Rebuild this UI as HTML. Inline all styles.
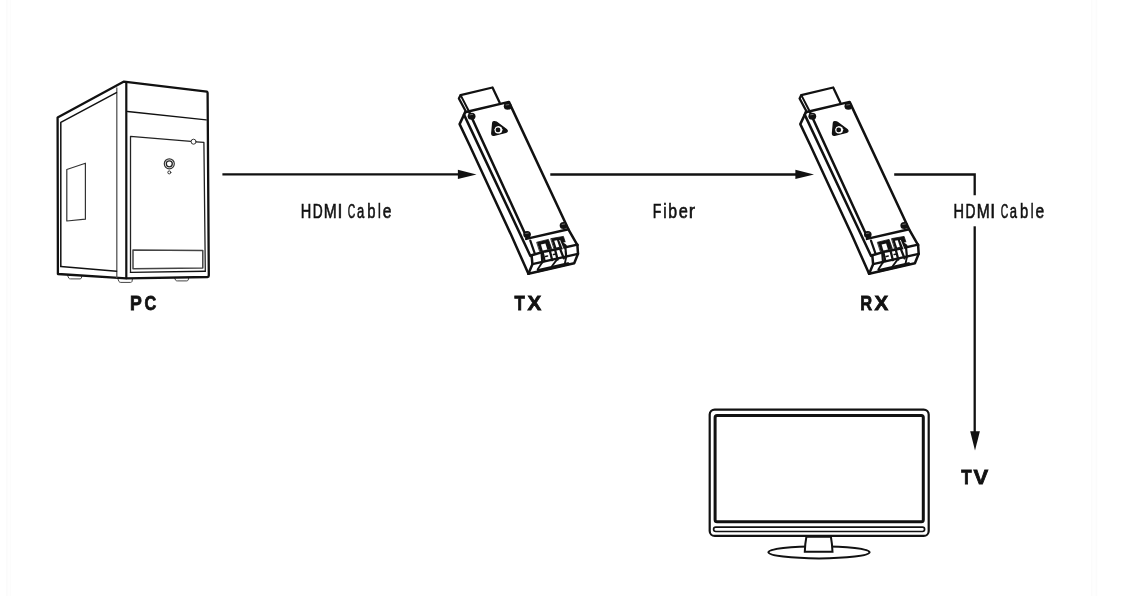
<!DOCTYPE html>
<html><head><meta charset="utf-8"><title>HDMI Fiber Extender</title>
<style>
html,body{margin:0;padding:0;background:#fff;}
body{width:1125px;height:596px;overflow:hidden;position:relative;}
svg{position:absolute;left:0;top:0;display:block;will-change:transform;}
text{font-family:"Liberation Sans",sans-serif;fill:#111;}
</style></head>
<body>
<svg width="1125" height="596" viewBox="0 0 1125 596">
<rect x="0" y="0" width="1125" height="596" fill="#fff"/>
<rect x="6" y="0" width="5" height="596" fill="#fefefe"/><rect x="6" y="0" width="1.6" height="596" fill="#fbfbfb"/><rect x="9.8" y="0" width="1" height="596" fill="#fcfcfc"/>
<rect x="1091" y="0" width="6.5" height="596" fill="#fefefe"/><rect x="1091" y="0" width="1.2" height="596" fill="#fbfbfb"/><rect x="1095.5" y="0" width="1.6" height="596" fill="#fbfbfb"/>

<!-- ================= PC ================= -->
<g id="pc" fill="none" stroke="#111" stroke-linejoin="round" stroke-linecap="round">
  <!-- feet -->
  <path d="M67.6,275.6 L68.8,278.2 Q69.4,278.9 70.5,278.9 L80,278.9 Q81,278.9 81.4,278 L81.8,276.2" stroke="#444" stroke-width="1" fill="#fff"/>
  <path d="M117.8,278.6 L119,281.6 Q119.6,282.4 120.8,282.4 L130.6,282.4 Q131.6,282.4 132,281.5 L132.4,279" stroke="#444" stroke-width="1" fill="#fff"/>
  <path d="M174.6,278 L175.6,280.2 Q176.2,280.9 177.3,280.9 L186.8,280.9 Q187.8,280.9 188.2,280 L188.8,277.6" stroke="#444" stroke-width="1" fill="#fff"/>
  <!-- outer silhouette -->
  <path d="M57.9,274 L57.6,117.6 L124,81.6 L126,81.8 L206.9,91.6 Q207.6,92.2 207.6,93 L208.8,275.4 Q208.8,276.8 207.4,277 L126.2,278.3 L57.9,274 Z" stroke-width="2.3"/>
  <!-- front/side corner -->
  <line x1="126.3" y1="82" x2="126.3" y2="278.2" stroke-width="2.2"/>
  <!-- side panel inner -->
  <path d="M116.8,88 L116.8,277.5" stroke="#555" stroke-width="1.3"/>
  <path d="M60.8,266.5 L60.8,122.4 L116.4,92.6" stroke-width="1.5"/>
  <path d="M60.8,266.5 L116.6,271.2" stroke-width="1.4"/>
  <!-- side vent -->
  <path d="M66.8,169.5 L85.4,163.2 L85.4,219.2 L66.8,221 Z" stroke="#333" stroke-width="1.2"/>
  <!-- front divider -->
  <path d="M127.6,111.5 L206.2,119.9" stroke-width="1.3"/>
  <!-- door -->
  <path d="M130.5,272.4 L130.5,136.4 L191,141.3 M196.1,141.8 L203.9,142.4 L205.3,271.2" stroke="#222" stroke-width="1.3"/>
  <path d="M130.5,272.4 L205.3,271.2" stroke-width="1.4"/>
  <circle cx="193.6" cy="141.7" r="2.5" fill="#fff" stroke="#333" stroke-width="1"/>
  <!-- power button -->
  <circle cx="169.3" cy="163.8" r="5" stroke="#333" stroke-width="1.2"/>
  <circle cx="169.3" cy="163.8" r="3" stroke="#222" stroke-width="1.3"/>
  <circle cx="169.3" cy="172.4" r="1.5" stroke="#333" stroke-width="1"/>
  <!-- bottom bay -->
  <path d="M133,249.9 L202.8,250.5 L202.8,268 L133,268.8 Z" stroke="#444" stroke-width="1.5"/>
</g>

<!-- ================= DEVICE (TX) ================= -->
<g id="dev" fill="none" stroke="#111" stroke-width="2.5" stroke-linejoin="round" stroke-linecap="round">
  <!-- plug -->
  <path d="M465.6,111 L458.9,98.5 L460.6,95.1 L492.5,87.5 L499.6,102.4" stroke-width="2.3"/>
  <path d="M460.6,95.1 L468.4,110.2" stroke-width="2"/>
  <!-- top face outline -->
  <path d="M465,112.3 L508.9,101.9 L568.4,229.3 L577.4,245.2"/>
  <!-- side face -->
  <path d="M465,112.6 L459.6,124.1 L469.5,145 L492.6,195 L511.2,235 L528.4,273.8"/>
  <path d="M464,114.6 L530.4,256"/>
  <path d="M469.4,112.6 L527,237.9"/>
  <!-- top face bottom edge -->
  <path d="M526.2,238.9 L568.4,229.3"/>
  <!-- connector housing -->
  <path d="M530.3,240.6 L534.9,253.8" stroke-width="2.2"/>
  <path d="M531.6,255.3 L545,251.4 L560,248.4 L577.3,244.6"/>
  <path d="M577.4,245.2 L578,253.8 L574.2,263.3 L528.4,273.8"/>
  <path d="M531.6,255.3 L532.4,264.2 L528.4,273.8"/>
  <path d="M532.4,264.2 L578,253.8" stroke-width="2.3"/>
  <path d="M565.2,246.2 L566.2,256.4" stroke-width="2.2"/>
  <path d="M541.6,253.6 L542.3,262.4" stroke-width="2.2"/>
  <path d="M541.8,263 L537.6,269.6 M556.3,260.4 L551.9,266.3 M566.2,257.2 L564.5,265" stroke-width="1.8"/>
  <!-- LC ports -->
  <path d="M537,242.2 L548.4,239.4 L551.6,248.6 L540,251.4 Z" fill="#111" stroke="#111" stroke-width="0.8"/>
  <path d="M540.9,244.6 L545.4,243.5 L547.3,249.4 L542.7,250.5 Z" fill="#fff" stroke="none"/>
  <path d="M551.1,238.6 L563.4,236.4 L566.4,245.8 L554.2,248.4 Z" fill="#111" stroke="#111" stroke-width="0.8"/>
  <path d="M554.2,240.8 L557,240.2 L559.2,246.8 L556.4,247.5 Z" fill="#fff" stroke="none"/>
  <path d="M559.8,240.4 L563.8,250.4" stroke="#fff" stroke-width="0.9"/>
  <path d="M563.2,242.6 L566.6,241.9 L567.3,245.2" fill="#fff" stroke="none"/>
  <path d="M542.6,252 L544.6,261 M549.8,250.6 L552.2,260.2 M555.2,250.2 L557.6,259.6 M560.4,249.6 L563.8,258.4" stroke-width="2.3"/>
  <path d="M545.5,256.5 L547.5,256 M553.5,254.5 L556,254" stroke-width="1.6"/>
  <path d="M538.6,270.6 L568,263.8" stroke-width="3.2"/>
  <!-- screws -->
  <g fill="#111" stroke="none">
    <ellipse cx="471.6" cy="116.3" rx="3.9" ry="3.5"/>
    <ellipse cx="507.7" cy="106.2" rx="3.9" ry="3.6"/>
    <ellipse cx="527.1" cy="234.6" rx="3.8" ry="3.5"/>
    <ellipse cx="563.5" cy="225.5" rx="3.8" ry="3.5"/>
  </g>
  <g stroke="#777" stroke-width="0.9">
    <path d="M470,114.8 L472.6,114.4 M506,105 L508.8,104.6 M525.7,233.5 L528.3,233.1 M562.1,224.4 L564.7,224"/>
  </g>
  <!-- logo -->
  <path d="M494.8,121.8 Q492.9,121.3 492.7,123.3 L491.8,133.4 Q491.7,135.6 493.9,135.2 L505.8,132.4 Q508.4,131.4 506.4,129.6 L497,122.6 Q496,121.9 494.8,121.8 Z" fill="#111" stroke="#111" stroke-width="1.4"/>
  <path d="M498.2,126 L500.2,126.4 L501.2,127.2 L502.6,129.6 L501.6,132.4 L499.6,133.6 L497,133.6 L495,132.2 L494.4,129.6 L495.6,127 Z" fill="#fff" stroke="none"/>
  <circle cx="498" cy="129.9" r="2.4" fill="#111" stroke="none"/>
</g>
<use href="#dev" transform="translate(340.7,0)"/>

<!-- ================= ARROWS ================= -->
<g stroke="#111" stroke-width="2.3" fill="none">
  <line x1="222.4" y1="174.4" x2="459" y2="174.4"/>
  <line x1="550.3" y1="174.5" x2="797" y2="174.5"/>
  <path d="M894.2,174.5 L974.7,174.5 L974.7,195.3" stroke-linejoin="miter"/>
  <line x1="974.7" y1="226.3" x2="974.7" y2="433"/>
</g>
<g fill="#111">
  <path d="M457.9,169.8 L476.5,174.4 L457.9,178.9 Z"/>
  <path d="M795.4,169.8 L814,174.4 L795.4,179 Z"/>
  <path d="M970.2,431.2 L979.9,431.2 L975,450.6 Z"/>
</g>

<!-- ================= TV ================= -->
<g fill="none" stroke="#111">
  <ellipse cx="819" cy="552.3" rx="50.6" ry="6.1" stroke-width="2"/>
  <path d="M806.4,536.7 Q805,544 804.8,551.7 L832.5,551.7 Q832.2,544 830.9,536.7 Z" fill="#fff" stroke-width="2"/>
  <rect x="709.7" y="409.6" width="219" height="126.3" rx="5" stroke-width="2.2"/>
  <rect x="715.1" y="415.4" width="208.2" height="106.4" rx="2" stroke-width="3"/>
  <rect x="713.6" y="527.2" width="211" height="4.3" rx="2.15" stroke-width="1.7"/>
</g>

<!-- ================= TEXT ================= -->
<g font-size="19.5" stroke="#111" stroke-width="0.6">
  <text transform="translate(300.63,217.80) scale(0.748,1)">H</text>
  <text transform="translate(312.68,217.80) scale(0.708,1)">D</text>
  <text transform="translate(323.86,217.80) scale(0.799,1)">M</text>
  <text transform="translate(337.54,217.80) scale(0.910,1)">I</text>
  <text transform="translate(347.83,217.80) scale(0.533,1)">C</text>
  <text transform="translate(356.95,217.80) scale(0.669,1)">a</text>
  <text transform="translate(367.27,217.80) scale(0.758,1)">b</text>
  <text transform="translate(378.04,217.80) scale(0.648,1)">l</text>
  <text transform="translate(382.68,217.80) scale(0.800,1)">e</text>
  <text transform="translate(652.66,217.80) scale(0.721,1)">F</text>
  <text transform="translate(663.22,217.80) scale(0.778,1)">i</text>
  <text transform="translate(668.32,217.80) scale(0.811,1)">b</text>
  <text transform="translate(678.66,217.80) scale(0.841,1)">e</text>
  <text transform="translate(688.64,217.80) scale(0.968,1)">r</text>
  <text transform="translate(953.43,218.00) scale(0.748,1)">H</text>
  <text transform="translate(965.48,218.00) scale(0.708,1)">D</text>
  <text transform="translate(976.66,218.00) scale(0.799,1)">M</text>
  <text transform="translate(990.34,218.00) scale(0.910,1)">I</text>
  <text transform="translate(1000.63,218.00) scale(0.533,1)">C</text>
  <text transform="translate(1009.75,218.00) scale(0.669,1)">a</text>
  <text transform="translate(1020.07,218.00) scale(0.758,1)">b</text>
  <text transform="translate(1030.84,218.00) scale(0.648,1)">l</text>
  <text transform="translate(1035.48,218.00) scale(0.800,1)">e</text>
</g>
<g font-size="20.4" font-weight="bold" stroke="#111" stroke-width="0.8">
  <text transform="translate(129.96,309.90) scale(0.867,1)">P</text>
  <text transform="translate(144.45,309.90) scale(0.799,1)">C</text>
  <text transform="translate(514.54,309.90) scale(0.827,1)">T</text>
  <text transform="translate(527.42,309.90) scale(1.011,1)">X</text>
  <text transform="translate(860.22,309.90) scale(0.807,1)">R</text>
  <text transform="translate(874.52,309.90) scale(1.011,1)">X</text>
  <text transform="translate(961.24,483.85) scale(0.835,1)">T</text>
  <text transform="translate(973.48,483.85) scale(1.076,1)">V</text>
</g>

</svg>
</body></html>
